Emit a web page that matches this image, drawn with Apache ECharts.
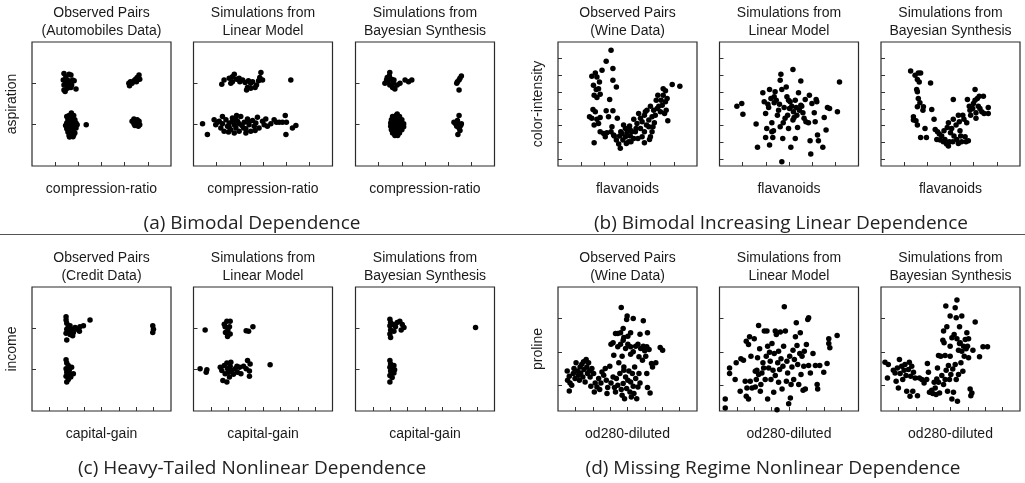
<!DOCTYPE html>
<html>
<head>
<meta charset="utf-8">
<script src="https://cdn.jsdelivr.net/npm/echarts@6.0.0/dist/echarts.min.js"></script>
<style>
html,body{margin:0;padding:0;background:#fff;}
#chart{width:1025px;height:483px;}
</style>
</head>
<body>
<div id="chart"></div>
<script>
// ---------- text ----------
const panelTitles = [
  "Observed Pairs\n(Automobiles Data)", "Simulations from\nLinear Model", "Simulations from\nBayesian Synthesis",
  "Observed Pairs\n(Wine Data)", "Simulations from\nLinear Model", "Simulations from\nBayesian Synthesis",
  "Observed Pairs\n(Credit Data)", "Simulations from\nLinear Model", "Simulations from\nBayesian Synthesis",
  "Observed Pairs\n(Wine Data)", "Simulations from\nLinear Model", "Simulations from\nBayesian Synthesis"
];
const xNames = ["compression-ratio", "flavanoids", "capital-gain", "od280-diluted"];
const yNames = ["aspiration", "color-intensity", "income", "proline"];
const captions = [
  "(a) Bimodal Dependence",
  "(b) Bimodal Increasing Linear Dependence",
  "(c) Heavy-Tailed Nonlinear Dependence",
  "(d) Missing Regime Nonlinear Dependence"
];

// ---------- unlabeled tick positions (axis units) ----------
const ticksA_x = [1, 2, 3, 4, 5];
const ticksA_y = [0, 1];
const ticksB_x = [1, 2, 3, 4, 5];
const ticksB_y = [1, 2, 3, 4, 5, 6, 7];
const ticksC_x = [1, 2, 3, 4, 5, 6, 7];
const ticksC_y = [0, 1];
const ticksD_x = [1, 2, 3, 4, 5, 6, 7];
const ticksD_y = [1, 2, 3];
const rangeA = [0, 6, -1, 2];
const rangeB = [0, 6, 0.58, 8];
const rangeC = [0, 8, -1, 2];
const rangeD = [0, 8, 0.23, 3.94];

// ---------- (a) compression-ratio vs aspiration ----------
const a1 = [
 [1.38,1.24],[1.46,1.16],[1.60,1.22],[1.68,1.2],[1.35,1.08],[1.46,1.04],[1.53,1.08],[1.75,1.08],[1.82,1.06],
 [1.38,0.96],[1.5,0.94],[1.6,1.0],[1.71,0.96],[1.38,0.84],[1.53,0.88],[1.68,0.9],[1.9,0.86],[1.43,0.8],
 [4.62,1.2],[4.54,1.14],[4.47,1.1],[4.4,1.06],[4.25,1.04],[4.18,1.0],[4.32,1.0],[4.21,0.94],[4.65,1.1],[4.51,1.04],
 [1.5,0.2],[1.6,0.22],[1.7,0.2],[1.8,0.22],[1.55,0.12],[1.65,0.12],[1.75,0.14],[1.85,0.12],[1.5,0.04],[1.6,0.05],
 [1.7,0.04],[1.8,0.05],[1.9,0.04],[1.45,-0.02],[1.55,-0.03],[1.65,-0.02],[1.75,-0.03],[1.85,-0.02],[1.95,0],
 [1.5,-0.1],[1.6,-0.1],[1.7,-0.11],[1.8,-0.1],[1.9,-0.08],[1.55,-0.18],[1.65,-0.19],[1.75,-0.18],[1.85,-0.2],
 [1.6,-0.26],[1.7,-0.27],[1.8,-0.25],[1.7,0.28],[1.62,-0.3],[1.77,-0.29],[2.34,0.0],
 [4.4,0.14],[4.54,0.12],[4.32,0.08],[4.47,0.06],[4.62,0.08],[4.4,0.02],[4.54,0.02],[4.65,0],[4.44,-0.02],[4.59,-0.04]
];
const a2 = [
 [1.22,0.98],[1.32,1.08],[1.54,1.12],[1.68,1.16],[1.76,1.22],[1.86,1.1],[2.0,1.04],[2.12,1.08],[2.23,1.02],
 [2.33,0.9],[2.37,1.06],[2.47,1.0],[2.55,1.04],[2.66,0.9],[2.72,0.96],[2.81,1.06],[2.86,1.14],[2.91,1.26],
 [2.98,1.08],[2.29,0.84],[2.47,0.88],[1.68,1.04],[1.61,1.0],[1.97,1.12],[4.2,1.08],
 [0.39,0.02],[0.6,-0.24],[0.89,0.12],[0.96,0],[1.11,0.08],[1.18,-0.08],[1.25,0.02],[1.32,-0.16],[1.40,0.12],
 [1.47,-0.04],[1.54,0.04],[1.61,-0.12],[1.68,0.16],[1.76,0],[1.83,-0.08],[1.9,0.08],[1.97,-0.16],[2.04,0.2],
 [2.09,-0.02],[2.19,0.06],[2.26,-0.1],[2.33,0.14],[2.4,0],[2.47,-0.16],[2.55,0.1],[2.62,-0.04],[2.69,0.04],
 [2.76,0.18],[2.83,-0.08],[2.98,0.08],[3.05,0],[3.12,0.14],[3.19,-0.04],[3.34,0.02],[3.48,0.12],[3.58,0.06],
 [3.7,0.06],[3.84,0.06],[3.96,0.22],[4.01,0.06],[3.99,-0.24],[4.27,-0.08],[4.42,-0.02],[1.25,0.2],[1.51,-0.18],
 [1.86,0.22],[2.26,-0.2],[1.76,-0.2],[2.66,-0.14],[1.04,0.06],[1.54,-0.06],[1.97,0.02],[2.37,0.06],[1.68,0.08],
 [2.16,-0.08],[1.83,0.12]
];
const a3 = [
 [1.48,1.26],[1.46,1.18],[1.34,1.08],[1.27,1.0],[1.41,1.04],[1.56,1.1],[1.63,1.0],[1.48,0.96],[1.6,0.9],
 [1.7,0.86],[1.8,0.96],[1.92,1.0],[2.14,1.08],[2.29,1.04],[2.43,1.08],[1.66,1.08],[1.37,1.14],
 [4.57,1.18],[4.51,1.12],[4.47,1.08],[4.4,1.04],[4.37,1.0],[4.47,0.84],
 [1.6,0.2],[1.75,0.22],[1.9,0.2],[1.55,0.12],[1.7,0.12],[1.85,0.12],[2.0,0.12],[1.52,0.04],[1.67,0.04],
 [1.82,0.04],[1.97,0.04],[2.08,0.02],[1.52,-0.04],[1.67,-0.04],[1.82,-0.04],[1.97,-0.04],[2.08,-0.05],
 [1.55,-0.12],[1.7,-0.12],[1.85,-0.12],[2.0,-0.12],[1.6,-0.2],[1.75,-0.2],[1.9,-0.2],[1.7,-0.26],[1.82,-0.26],[1.8,0.26],
 [4.47,0.22],[4.4,0.1],[4.25,0.06],[4.32,0.02],[4.42,0],[4.54,-0.02],[4.37,-0.04],[4.47,-0.08],[4.51,-0.14],[4.42,-0.24],[4.57,0.02]
];

// ---------- (b) flavanoids vs color-intensity ----------
const b1 = [
 [2.29,7.5],[2.08,6.85],[2.37,6.41],[1.9,6.31],[1.61,6.15],[1.46,5.95],[1.68,5.91],[1.79,5.61],[2.37,5.71],
 [2.52,5.31],[1.53,5.41],[1.65,5.16],[1.75,5.21],[1.56,4.82],[1.68,4.68],[1.82,4.88],[2.23,4.56],[1.51,3.96],
 [1.61,3.82],[2.08,3.88],[2.37,3.88],[1.36,3.52],[1.46,3.43],[1.68,3.37],[1.82,3.48],[2.18,3.52],[2.56,3.43],
 [1.56,3.03],[1.75,3.13],[1.56,1.97],[2.04,2.33],[2.11,2.57],[2.29,2.63],[2.43,2.37],[2.52,2.13],[2.62,1.89],
 [2.69,1.64],[2.8,2.13],[2.91,2.33],[2.98,2.57],[3.01,2.83],[3.12,2.37],[3.15,2.03],[3.27,2.23],[3.34,2.63],
 [3.09,2.97],[3.41,3.13],[3.56,2.83],[3.63,2.33],[3.73,2.63],[3.82,3.03],[3.92,3.33],[3.99,2.33],[4.06,3.52],
 [3.84,3.92],[4.13,3.92],[4.2,3.62],[4.28,4.02],[4.35,4.16],[4.42,3.82],[4.16,3.17],[4.1,2.93],[4.45,4.52],
 [4.54,4.82],[4.64,4.42],[4.71,4.62],[4.54,5.21],[4.6,3.72],[4.74,3.29],[4.93,5.45],[5.26,5.35],[3.73,3.62],
 [3.56,3.43],[3.48,3.72],[3.27,3.37],[2.83,3.03],[2.71,2.63],[2.66,2.37],[2.4,2.43],[2.95,1.93],[3.05,2.03],
 [3.45,2.23],[3.73,1.97],[3.95,2.17],[4.06,2.63],[3.37,2.83],[3.19,2.63],[3.92,2.93],[4.24,4.52],[3.99,4.16],
 [4.64,5.08],[4.31,4.82],[3.77,3.82],[3.63,3.23],[3.12,2.73],[2.91,2.83],[2.76,2.53],[2.33,2.93],[1.97,2.53],
 [1.82,2.63],[4.67,3.92],[4.5,4.22]
];
const b2 = [
 [0.75,4.16],[0.96,4.32],[1.01,3.68],[1.58,3.09],[1.64,1.7],[1.87,4.96],[1.93,4.42],[1.99,3.72],[2.09,4.28],
 [2.12,4.08],[2.16,5.16],[2.22,4.62],[2.26,3.17],[2.26,2.63],[2.3,2.29],[2.36,4.72],[2.4,5.02],[2.45,4.52],
 [2.5,3.62],[2.55,3.92],[2.59,4.28],[2.62,5.71],[2.65,6.07],[2.69,5.16],[2.73,2.23],[2.79,4.08],[2.83,3.43],
 [2.88,5.31],[2.91,4.72],[2.94,3.62],[2.98,2.83],[3.02,4.02],[3.05,4.42],[3.08,1.7],[3.12,4.16],[3.17,6.35],
 [3.17,3.33],[3.19,3.82],[3.22,3.48],[3.27,2.23],[3.31,4.08],[3.34,3.62],[3.37,2.89],[3.41,4.96],[3.45,3.92],
 [3.51,5.67],[3.55,4.16],[3.6,3.76],[3.65,3.43],[3.7,4.56],[3.73,3.23],[3.84,3.17],[3.88,4.82],[3.91,2.09],
 [3.94,1.3],[3.99,4.32],[4.09,3.76],[4.13,3.23],[4.17,4.56],[4.2,4.42],[4.23,2.43],[4.27,2.09],[4.46,1.7],
 [4.52,3.48],[4.6,2.73],[4.66,4.08],[4.75,4.02],[5.09,3.82],[5.18,5.61],[2.69,0.84],[2.33,2.69],[2.62,2.93],
 [2.04,2.83],[1.99,2.29],[2.16,1.83],[2.75,3.17],[3.27,4.52],[3.51,4.22],[2.36,4.36],[2.98,4.52]
];
const b3 = [
 [1.28,6.27],[1.47,6.01],[1.61,6.15],[1.71,6.15],[1.57,5.75],[1.65,5.61],[2.14,5.55],[1.54,5.16],[1.57,5.02],
 [1.61,4.62],[1.68,4.36],[1.57,4.12],[1.83,4.12],[1.81,3.92],[1.4,3.52],[1.51,3.29],[1.57,3.03],[1.9,2.83],
 [1.71,2.29],[1.96,2.29],[2.19,3.96],[2.29,3.37],[2.34,2.77],[2.44,2.63],[2.52,2.49],[2.41,2.17],[2.55,2.13],
 [2.62,2.37],[2.69,2.03],[2.76,2.17],[2.83,1.89],[2.91,1.78],[2.95,2.03],[2.86,2.89],[2.91,3.17],[3.05,2.83],
 [3.12,4.56],[3.12,3.37],[3.15,2.37],[3.24,3.03],[3.27,2.17],[3.34,3.62],[3.38,3.23],[3.41,2.69],[3.44,2.37],
 [3.48,2.03],[3.53,3.62],[3.58,3.37],[3.63,2.33],[3.67,2.03],[3.7,3.17],[3.73,4.56],[3.77,2.09],[3.81,4.16],
 [3.84,3.92],[3.87,3.62],[3.96,4.02],[3.99,4.32],[4.06,5.16],[4.06,4.52],[4.1,3.76],[4.16,4.62],[4.2,4.16],
 [4.24,4.76],[4.27,4.02],[4.35,3.82],[4.42,4.76],[4.45,3.72],[4.63,4.08],[4.63,3.72],[4.1,3.43],[3.1,2.03],
 [3.34,1.93],[2.72,2.69],[3.0,2.57],[1.4,3.33]
];

// ---------- (c) capital-gain vs income ----------
const c1 = [
 [1.96,1.28],[1.96,1.2],[2.0,1.12],[2.09,1.04],[2.0,0.98],[2.19,1.06],[2.28,0.98],[1.96,0.88],[2.09,0.93],
 [2.38,0.9],[2.48,1.02],[2.61,0.98],[2.76,1.04],[2.73,0.93],[2.96,1.06],[3.34,1.2],[2.0,0.72],[2.19,0.85],
 [2.34,0.82],[6.95,1.06],[6.95,0.9],[6.99,0.98],
 [1.96,0.24],[2.0,0.16],[2.09,0.1],[1.96,0.02],[2.15,0],[2.0,-0.06],[2.19,-0.1],[2.38,-0.1],[2.28,0.06],
 [1.96,-0.16],[2.09,-0.24],[2.23,-0.18],[2.0,-0.3]
];
const c2 = [
 [0.67,0.96],[1.77,1.1],[1.92,1.17],[2.11,1.17],[1.82,1.04],[2.07,1.04],[1.98,0.96],[1.84,0.9],[1.96,0.8],
 [2.11,0.86],[3.03,0.94],[3.17,0.93],[3.42,1.04],
 [0.38,0.02],[0.77,0],[0.73,-0.06],[1.54,0.06],[1.63,-0.02],[1.77,0.1],[1.82,-0.1],[1.92,0.16],[1.96,0.02],
 [2.02,-0.06],[2.07,-0.18],[1.92,-0.3],[2.11,0.08],[2.21,-0.02],[2.3,-0.11],[2.4,0.02],[2.5,0.08],[2.53,-0.06],
 [2.65,0.06],[2.73,-0.1],[2.88,0.08],[3.03,0.02],[3.11,0.22],[3.22,-0.03],[3.26,0.14],[3.22,-0.16],[4.41,0.12],
 [1.69,-0.26],[2.15,0.18]
];
const c3 = [
 [1.98,1.22],[2.02,1.14],[1.98,1.06],[2.02,0.96],[1.98,0.86],[2.02,0.78],[2.17,1.09],[2.3,1.04],[2.4,1.14],
 [2.55,1.17],[2.69,1.09],[2.79,1.02],[2.63,0.96],[2.21,0.93],[6.91,1.02],
 [1.98,0.22],[2.02,0.14],[1.98,0.06],[2.11,0.02],[2.21,0.1],[2.02,-0.03],[2.21,-0.08],[1.98,-0.14],[2.11,-0.19],
 [1.98,-0.3],[2.25,0]
];

// ---------- (d) od280-diluted vs proline ----------
const d1 = [
 [0.53,1.43],[0.55,1.15],[0.65,1.27],[0.69,1.07],[0.65,0.83],[0.79,1.0],[0.88,1.35],[0.92,1.5],[0.98,1.2],
 [1.04,1.67],[1.12,1.43],[1.17,1.3],[1.23,1.15],[1.27,1.55],[1.31,1.37],[1.37,1.63],[1.43,1.25],[1.47,1.7],
 [1.5,1.47],[1.56,1.1],[1.62,1.77],[1.66,1.55],[1.7,1.35],[1.76,1.67],[1.81,1.43],[1.85,1.25],[1.95,1.5],
 [1.89,0.97],[2.05,1.35],[2.14,1.07],[2.24,0.95],[2.09,0.8],[2.34,1.2],[2.4,0.87],[2.47,1.07],[2.53,1.4],
 [2.63,1.3],[2.72,1.5],[2.78,1.15],[2.82,0.75],[2.86,0.93],[2.98,1.57],[3.05,1.07],[3.17,1.25],[3.25,0.93],
 [3.31,0.8],[3.36,1.2],[3.44,1.0],[3.5,1.67],[3.56,1.35],[3.64,0.87],[3.69,0.7],[3.75,1.05],[3.79,1.45],
 [3.83,0.6],[3.89,1.25],[3.95,0.9],[4.02,1.15],[4.08,1.43],[4.14,0.8],[4.18,1.1],[4.22,0.65],[4.28,1.35],
 [4.33,0.97],[4.37,0.75],[4.41,1.55],[4.47,1.2],[4.53,0.6],[4.6,0.95],[4.66,1.35],[4.72,1.07],[5.11,1.35],
 [5.15,0.93],[5.3,0.77],[5.38,1.65],
 [3.64,3.33],[3.98,3.07],[3.95,2.97],[4.33,3.0],[4.91,2.93],[3.31,2.55],[3.44,2.55],[3.6,2.57],[3.75,2.7],
 [3.79,2.43],[4.02,2.47],[4.18,2.57],[4.72,2.53],[5.15,2.57],[3.05,2.23],[3.17,2.27],[3.44,2.15],[3.6,2.23],
 [3.75,2.35],[3.89,2.1],[4.02,2.23],[4.18,2.15],[4.33,2.0],[4.47,2.17],[4.6,2.23],[4.76,2.1],[4.91,2.17],
 [4.99,2.03],[5.11,2.15],[5.24,2.07],[5.88,2.13],[6.02,2.05],[3.21,1.9],[3.69,1.87],[4.18,1.93],[4.66,1.85],
 [4.86,1.75],[5.05,1.87],[5.63,1.67],[5.44,1.55],[3.79,1.55]
];
const d2 = [
 [0.33,0.59],[0.33,0.32],[0.58,1.35],[0.58,1.52],[0.9,1.17],[0.96,1.67],[1.23,1.79],[1.19,0.82],[1.38,1.75],
 [1.48,1.12],[1.54,0.67],[1.58,0.92],[1.67,0.59],[1.67,2.22],[1.73,2.45],[1.77,1.12],[1.81,1.87],[1.87,0.92],
 [2.0,2.39],[2.06,0.95],[2.12,1.17],[2.15,1.45],[2.19,1.82],[2.25,2.79],[2.25,1.32],[2.31,2.09],[2.35,0.82],
 [2.38,1.02],[2.44,1.37],[2.5,1.67],[2.58,2.62],[2.63,1.17],[2.69,1.87],[2.73,2.62],[2.77,0.59],[2.83,1.52],
 [2.88,1.99],[2.92,1.72],[2.96,1.17],[3.02,2.25],[3.08,1.45],[3.12,0.79],[3.15,1.95],[3.21,1.29],[3.27,2.52],
 [3.31,0.27],[3.35,1.67],[3.4,2.02],[3.4,1.09],[3.46,1.47],[3.5,2.59],[3.54,1.79],[3.6,0.89],[3.65,1.57],
 [3.69,2.17],[3.73,3.35],[3.79,2.62],[3.85,1.12],[3.88,1.72],[3.92,1.37],[3.98,0.45],[4.04,1.87],[4.08,0.62],
 [4.12,1.02],[4.17,1.55],[4.23,2.05],[4.27,1.17],[4.31,1.77],[4.37,2.45],[4.42,2.87],[4.46,2.19],[4.5,1.62],
 [4.56,1.02],[4.62,1.95],[4.65,2.57],[4.69,1.32],[4.75,1.87],[4.81,0.85],[4.85,1.57],[4.88,2.02],[4.94,0.89],
 [5.0,2.22],[5.08,2.97],[5.13,3.02],[5.13,1.59],[5.23,1.37],[5.38,1.95],[5.52,1.59],[5.62,1.02],[5.65,0.89],
 [5.77,1.59],[6.0,1.39],[6.19,1.65],[6.29,2.39],[6.29,2.25],[6.35,2.12],[6.77,2.49],[1.54,2.32],[2.77,2.17],
 [3.21,2.62],[2.54,1.52],[2.06,1.42]
];
const d3 = [
 [0.23,1.69],[0.42,1.62],[0.37,1.22],[0.71,1.45],[0.81,1.37],[0.87,1.12],[0.94,1.52],[1.0,0.92],[1.06,1.77],
 [1.1,1.35],[1.19,1.57],[1.25,1.17],[1.33,1.45],[1.38,1.62],[1.44,1.29],[1.48,0.82],[1.58,1.47],[1.63,1.69],
 [1.67,0.67],[1.71,1.27],[1.77,1.57],[1.83,0.82],[1.87,1.39],[1.96,1.22],[2.1,0.69],[2.21,1.22],[2.35,1.17],
 [2.48,1.07],[2.63,1.17],[2.73,1.39],[2.67,1.65],[2.79,0.79],[2.92,0.85],[2.98,0.75],[3.06,1.09],[3.12,0.92],
 [3.17,0.72],[3.21,1.19],[3.25,1.52],[3.31,1.89],[3.31,1.09],[3.37,0.77],[3.44,1.87],[3.5,1.29],[3.56,2.35],
 [3.6,1.02],[3.63,2.27],[3.69,1.89],[3.69,1.17],[3.75,1.45],[3.79,2.75],[3.83,0.82],[3.88,1.59],[3.94,1.17],
 [3.98,3.07],[3.98,1.87],[4.02,1.32],[4.08,2.42],[4.08,0.59],[4.13,1.49],[4.17,0.79],[4.21,2.52],[4.27,1.62],
 [4.33,3.02],[4.33,1.17],[4.37,2.39],[4.4,0.52],[4.46,2.05],[4.46,1.32],[4.52,2.75],[4.56,2.27],[4.6,1.67],
 [4.65,3.07],[4.65,2.02],[4.71,1.42],[4.75,2.17],[4.79,1.87],[4.85,2.37],[4.9,2.09],[4.94,2.57],[4.98,2.17],
 [5.04,1.82],[5.13,0.89],[5.17,0.69],[5.23,0.77],[5.29,2.05],[5.42,2.89],[5.67,1.85],[5.87,2.15],[6.13,2.15],
 [4.37,3.55],[3.73,3.37],[4.27,3.32],[5.04,2.39],[4.52,2.25],[3.98,2.17],[3.6,2.62]
];

// ---------- layout ----------
const seriesData = [a1, a2, a3, b1, b2, b3, c1, c2, c3, d1, d2, d3];
const colLeft = [32, 193.5, 355.5, 558, 719.5, 881];
const rowTop = [42, 287];
const PW = 139, PH = 124;
const sansFont = "'Liberation Sans', Arimo, Helvetica, Arial, sans-serif";
const capFont = "'Open Sans', Lato, sans-serif";

const grids = [], xAxes = [], yAxes = [], series = [], graphics = [];
const groupDefs = [
  {row:0, col0:0, xt:ticksA_x, yt:ticksA_y, r:rangeA, g:0},
  {row:0, col0:3, xt:ticksB_x, yt:ticksB_y, r:rangeB, g:1},
  {row:1, col0:0, xt:ticksC_x, yt:ticksC_y, r:rangeC, g:2},
  {row:1, col0:3, xt:ticksD_x, yt:ticksD_y, r:rangeD, g:3}
];
groupDefs.forEach((gd, gi) => {
  for (let k = 0; k < 3; k++) {
    const i = gi * 3 + k;
    const left = colLeft[gd.col0 + k], top = rowTop[gd.row];
    grids.push({left: left, top: top, width: PW, height: PH, show: true,
      borderColor: '#2a2a2a', borderWidth: 1.2, backgroundColor: 'transparent', containLabel: false});
    xAxes.push({gridIndex: i, type: 'value', min: gd.r[0], max: gd.r[1],
      axisLine: {show: false, onZero: false}, splitLine: {show: false}, axisLabel: {show: false},
      axisTick: {show: true, inside: true, length: 4, customValues: gd.xt, lineStyle: {color: '#333', width: 1}},
      name: xNames[gd.g], nameLocation: 'middle', nameGap: 16,
      nameTextStyle: {fontFamily: sansFont, fontSize: 14, color: '#1a1a1a', verticalAlign: 'top'}});
    yAxes.push({gridIndex: i, type: 'value', min: gd.r[2], max: gd.r[3],
      axisLine: {show: false, onZero: false}, splitLine: {show: false}, axisLabel: {show: false},
      axisTick: {show: true, inside: true, length: 4, customValues: gd.yt, lineStyle: {color: '#333', width: 1}},
      name: k === 0 ? yNames[gd.g] : '', nameLocation: 'middle', nameGap: 13,
      nameTextStyle: {fontFamily: sansFont, fontSize: 14, color: '#1a1a1a'}});
    series.push({type: 'scatter', xAxisIndex: i, yAxisIndex: i, data: seriesData[i],
      symbol: 'circle', symbolSize: 5.5, itemStyle: {color: '#000', opacity: 1, borderWidth: 0},
      silent: true, animation: false});
    graphics.push({type: 'text', x: left + PW / 2, y: top - 19.75,
      style: {text: panelTitles[i], fill: '#1a1a1a', font: '14px ' + sansFont,
        align: 'center', verticalAlign: 'middle', lineHeight: 18.5}});
  }
});
// captions
const capPos = [[252, 223.5], [781, 223.5], [252, 468.5], [773, 468.5]];
captions.forEach((c, i) => {
  graphics.push({type: 'text', x: capPos[i][0], y: capPos[i][1],
    style: {text: c, fill: '#222', font: '19px ' + capFont, align: 'center', verticalAlign: 'middle'}});
});
// separator
graphics.push({type: 'line', shape: {x1: 0, y1: 234.5, x2: 1025, y2: 234.5},
  style: {stroke: '#555', lineWidth: 1.2}});

const chart = echarts.init(document.getElementById('chart'), null, {renderer: 'canvas'});
chart.setOption({
  backgroundColor: '#fff',
  animation: false,
  grid: grids, xAxis: xAxes, yAxis: yAxes, series: series, graphic: graphics
});
</script>
</body>
</html>
